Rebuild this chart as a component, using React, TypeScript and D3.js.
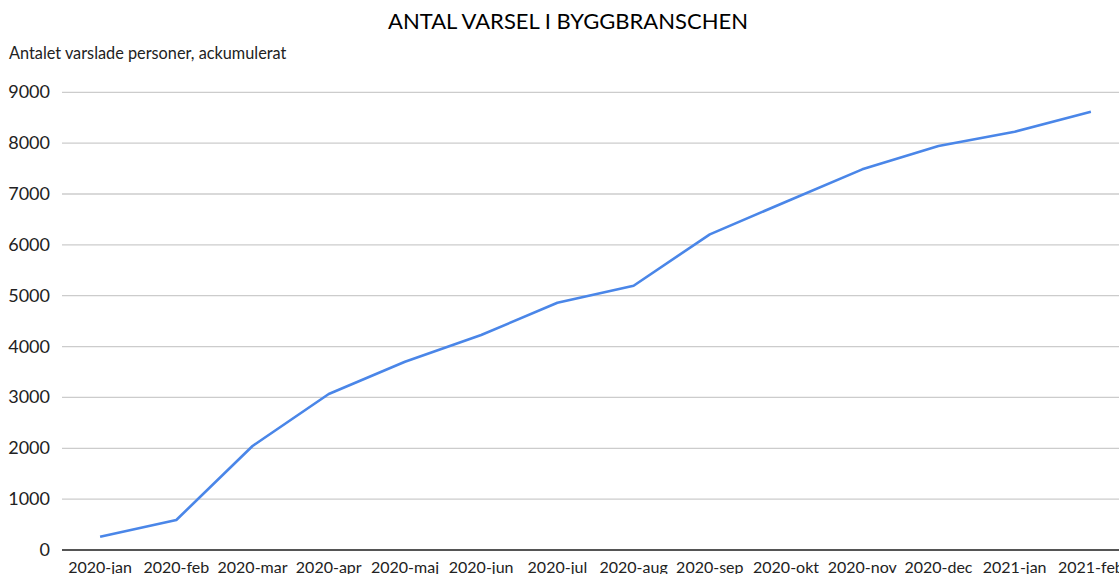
import React from "react";
import * as d3 from "d3";

const categories = [
  "2020-jan", "2020-feb", "2020-mar", "2020-apr", "2020-maj", "2020-jun", "2020-jul",
  "2020-aug", "2020-sep", "2020-okt", "2020-nov", "2020-dec", "2021-jan", "2021-feb",
];
const values = [262, 590, 2045, 3067, 3702, 4227, 4862, 5197, 6207, 6848, 7485, 7943, 8225, 8618];
const yTicks = [0, 1000, 2000, 3000, 4000, 5000, 6000, 7000, 8000, 9000];
const title = "ANTAL VARSEL I BYGGBRANSCHEN";
const subtitle = "Antalet varslade personer, ackumulerat";

const W = 1119;
const H = 574;

export default function App() {
  const x = d3.scaleBand<string>().domain(categories).range([62, 1129]);
  const y = d3.scaleLinear().domain([0, 9000]).range([550, 92.3]);
  const line = d3
    .line<number>()
    .x((_, i) => (x(categories[i]) as number) + x.bandwidth() / 2)
    .y((d) => y(d));
  const font = "Lato, 'Open Sans', sans-serif";
  return (
    <svg
      width={W}
      height={H}
      style={{ position: "absolute", left: 0, top: 0, background: "#fff" }}
      fontFamily={font}
    >
      <rect x={0} y={0} width={W} height={H} fill="#fff" />
      <text x={568} y={28.5} textAnchor="middle" fontSize={22} fill="#000">
        {title}
      </text>
      <text x={9} y={58.5} fontSize={16.3} fill="#222">
        {subtitle}
      </text>
      {yTicks.map((t) => (
        <g key={t}>
          {t !== 0 && (
            <line x1={62} x2={W} y1={y(t)} y2={y(t)} stroke="#cccccc" strokeWidth={1.3} />
          )}
          <text x={50} y={y(t) + 6} textAnchor="end" fontSize={18} fill="#222">
            {t}
          </text>
        </g>
      ))}
      <line x1={62} x2={W} y1={y(0)} y2={y(0)} stroke="#555" strokeWidth={2} />
      {categories.map((c) => (
        <text
          key={c}
          x={(x(c) as number) + x.bandwidth() / 2}
          y={573}
          textAnchor="middle"
          fontSize={16}
          fill="#222"
        >
          {c}
        </text>
      ))}
      <path d={line(values) || ""} fill="none" stroke="#4a86e8" strokeWidth={2.6} strokeLinejoin="round" />
    </svg>
  );
}
